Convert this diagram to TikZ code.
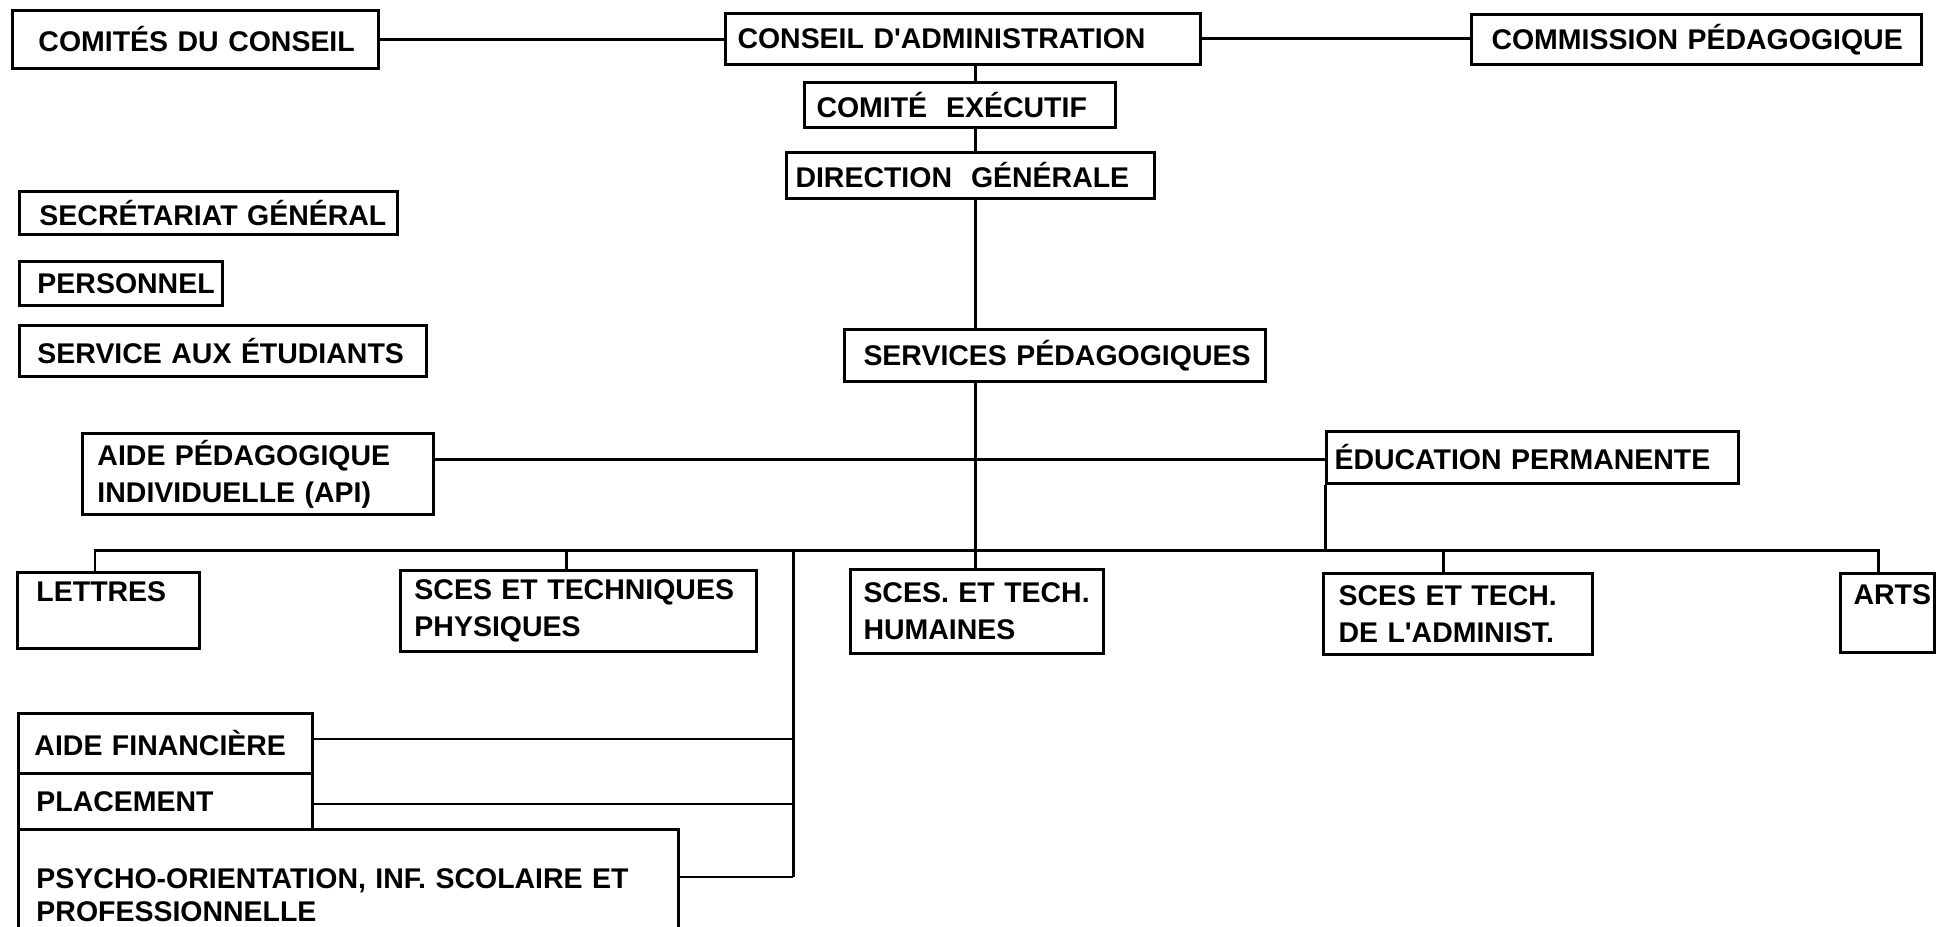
\documentclass[tikz,border=0pt]{standalone}
\usepackage{fontspec}
\setmainfont{Liberation Sans}
\newcommand\orgfont{\fontsize{8.1}{10.5}\selectfont\bfseries\hyphenpenalty=10000\exhyphenpenalty=10000}
\tikzset{
  box/.style={draw, line width=0.85pt, fill=white, anchor=north west,
    inner ysep=0pt, align=left, font=\orgfont},
  link/.style={line width=0.85pt},
}
\newcommand\orgbox[8][]{%
  \pgfmathsetlengthmacro\bxtw{((#5)-(#3)-2*(#7))*0.1mm}%
  \pgfmathsetlengthmacro\bxpad{(#7)*0.1mm}%
  \pgfmathsetlengthmacro\bxh{((#6)-(#4))*0.1mm}%
  \node[box,text width=\bxtw,inner xsep=\bxpad,minimum height=\bxh,#1] (#2) at (#3,#4) {#8};%
}
\begin{document}
\begin{tikzpicture}[x=0.1mm,y=-0.1mm]
\path[fill=white,use as bounding box] (0,0) rectangle (1941,927);

\orgbox{com}{11}{9}{377}{67}{26}{COMITÉS~DU~CONSEIL}
\orgbox{cons}{724}{12}{1199}{63}{12}{CONSEIL~D\textquotesingle ADMINISTRATION}
\orgbox{comm}{1470}{13}{1920}{63}{20}{COMMISSION~PÉDAGOGIQUE}
\orgbox{exe}{803}{81}{1114}{126}{12}{COMITÉ~~EXÉCUTIF}
\orgbox{dir}{785}{151}{1153}{197}{9}{DIRECTION~~GÉNÉRALE}
\orgbox{sec}{18}{190}{396}{233}{20}{SECRÉTARIAT~GÉNÉRAL}
\orgbox{per}{18}{260}{221}{304}{18}{PERSONNEL}
\orgbox{ser}{18}{324}{425}{375}{18}{SERVICE~AUX~ÉTUDIANTS}
\orgbox{sp}{843}{328}{1264}{380}{19}{SERVICES~PÉDAGOGIQUES}
\orgbox{api}{81}{432}{432}{513}{15}{AIDE~PÉDAGOGIQUE\\INDIVIDUELLE~(API)}
\orgbox{edu}{1325}{430}{1737}{482}{8}{ÉDUCATION~PERMANENTE}
\orgbox{let}{16}{571}{198}{647}{19}{LETTRES\\\mbox{}}
\orgbox{phys}{399}{569}{755}{650}{14}{SCES~ET~TECHNIQUES\\PHYSIQUES}
\orgbox{hum}{849}{568}{1102}{652}{13}{SCES.~ET~TECH.\\HUMAINES}
\orgbox{adm}{1322}{572}{1591}{653}{15}{SCES~ET~TECH.\\DE~L\textquotesingle ADMINIST.}
\orgbox{arts}{1839}{572}{1933}{651}{13}{ARTS\\\mbox{}}
\orgbox{fin}{17}{712}{311}{772}{16}{AIDE~FINANCIÈRE}
\orgbox{pla}{17}{772}{311}{828}{18}{PLACEMENT}
\orgbox[font={\fontsize{8.1}{9.4}\selectfont\bfseries\hyphenpenalty=10000\exhyphenpenalty=10000}]{psy}{17}{828}{677}{960}{18}{PSYCHO-ORIENTATION,~INF.~SCOLAIRE~ET\\PROFESSIONNELLE}

\coordinate (spine) at (975,0);
\coordinate (hl) at (0,460);
\coordinate (busL) at (95,551);
\coordinate (busR) at (1878,551);
\coordinate (dPhys) at (566,551);
\coordinate (dAdm) at (1443,551);
\coordinate (dLeft) at (793,551);
\coordinate (jFin) at (793,739);
\coordinate (jPla) at (793,804);
\coordinate (jPsy) at (793,877);

\draw[link] (com.east) -- (com.east -| cons.west);
\draw[link] (cons.east) -- (cons.east -| comm.west);
\draw[link] (cons.south -| spine) -- (exe.north -| spine);
\draw[link] (exe.south -| spine) -- (dir.north -| spine);
\draw[link] (dir.south -| spine) -- (sp.north -| spine);
\draw[link] (sp.south -| spine) -- (hum.north -| spine);
\draw[link] (api.east |- hl) -- (edu.west |- hl);
\draw[link] (edu.south west) -- (edu.south west |- busL);
\draw[link] (let.north -| busL) |- (busR) -- (arts.north -| busR);
\draw[link] (dPhys) -- (phys.north -| dPhys);
\draw[link] (dAdm) -- (adm.north -| dAdm);
\draw[link] (dLeft) -- (jPsy);
\draw[link] (fin.east |- jFin) -- (jFin);
\draw[link] (pla.east |- jPla) -- (jPla);
\draw[link] (psy.east |- jPsy) -- (jPsy);
\end{tikzpicture}
\end{document}
